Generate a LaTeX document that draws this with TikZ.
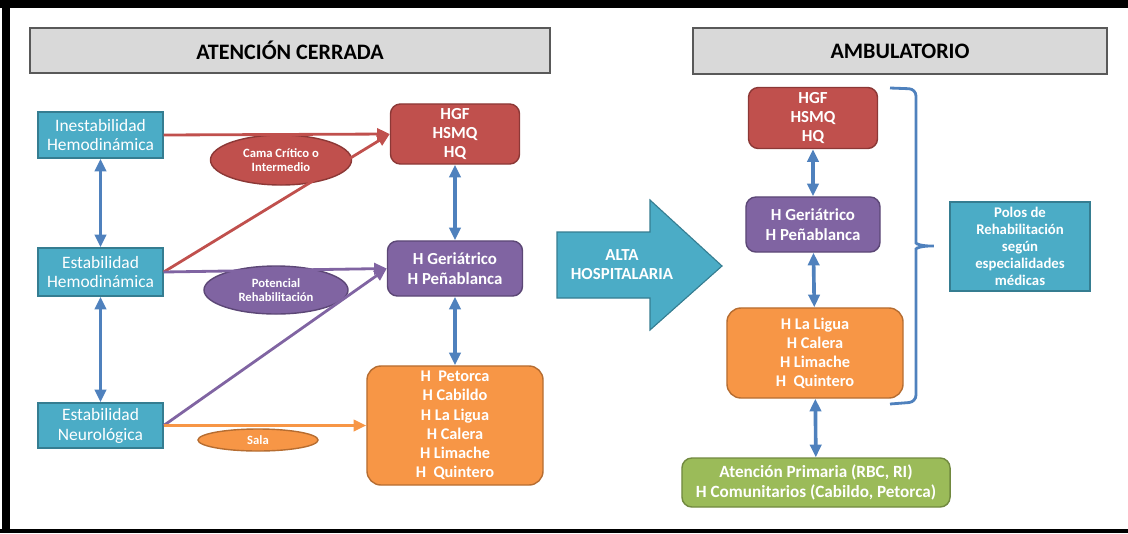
\documentclass[tikz,border=0pt]{standalone}
\usepackage{fontspec}
\setmainfont{Carlito}
\usetikzlibrary{shapes.geometric,arrows.meta}

\definecolor{tealfill}{HTML}{4BACC6}
\definecolor{tealline}{HTML}{357D91}
\definecolor{redfill}{HTML}{C0504D}
\definecolor{redline}{HTML}{8C3836}
\definecolor{purplefill}{HTML}{8064A2}
\definecolor{purpleline}{HTML}{5C4776}
\definecolor{orangefill}{HTML}{F79646}
\definecolor{orangeline}{HTML}{B66D31}
\definecolor{greenfill}{HTML}{9BBB59}
\definecolor{greenline}{HTML}{71893F}
\definecolor{arrowblue}{HTML}{4F81BD}
\definecolor{titlegray}{HTML}{D9D9D9}

\begin{document}
\begin{tikzpicture}[x=0.025cm,y=-0.025cm,>={Triangle[length=9pt,width=8pt]}]
\tikzstyle{every node}=[align=center,inner sep=0pt,text=white]
\tikzstyle{titlebox}=[rectangle,draw=black!65,fill=titlegray,line width=1pt,text=black,font=\fontsize{15.7}{18}\selectfont\bfseries]
\tikzstyle{sourcebox}=[rectangle,draw=tealline,fill=tealfill,line width=1pt,minimum width=3.125cm,font=\fontsize{12.4}{14.2}\selectfont]
\tikzstyle{hospbox}=[rectangle,rounded corners=7pt,line width=1pt,font=\fontsize{12}{13.3}\selectfont\bfseries]
\tikzstyle{tagoval}=[ellipse,line width=1pt,font=\fontsize{9}{10.5}\selectfont\bfseries]
\tikzstyle{link}=[->,line width=2pt]
\tikzstyle{bothway}=[<->,line width=2.6pt,color=arrowblue]
\useasboundingbox (0,0) rectangle (1128,533);
% frame
\fill[black] (0,0) rectangle (1128,8);
\fill[black] (2,0) rectangle (10,533);
\fill[black] (0,529) rectangle (1128,533);
% titles
\node[titlebox,minimum width=13cm,minimum height=1.125cm] (cerrada) at (290,50.5) {ATENCIÓN CERRADA};
\node[titlebox,minimum width=10.35cm,minimum height=1.15cm] (ambulatorio) at (900,51) {AMBULATORIO};
% atencion cerrada
\node[sourcebox,minimum height=1.15cm] (inest) at (100.5,135) {Inestabilidad\\Hemodinámica};
\node[sourcebox,minimum height=1.2cm] (estHemo) at (100.5,272) {Estabilidad\\Hemodinámica};
\node[sourcebox,minimum height=1.125cm] (estNeuro) at (100.5,425.5) {Estabilidad\\Neurológica};
\node[hospbox,fill=redfill,draw=redline,minimum width=3.225cm,minimum height=1.5cm] (hgfL) at (455,134) {HGF\\HSMQ\\HQ};
\node[hospbox,fill=purplefill,draw=purpleline,minimum width=3.375cm,minimum height=1.375cm,font=\fontsize{12}{14}\selectfont\bfseries] (gerL) at (455,268.5) {H Geriátrico\\H Peñablanca};
\node[hospbox,fill=orangefill,draw=orangeline,minimum width=4.4cm,minimum height=2.975cm,rounded corners=10pt,font=\fontsize{11.6}{13.7}\selectfont\bfseries] (oranL) at (455,425.5) {H~ Petorca\\H Cabildo\\H La Ligua\\H Calera\\H Limache\\H~ Quintero};
\node[tagoval,fill=redfill,draw=redline,minimum width=3.525cm,minimum height=1.25cm] (cama) at (281,160) {Cama Crítico o\\Intermedio};
\node[tagoval,fill=purplefill,draw=purpleline,minimum width=3.6cm,minimum height=1.2cm] (potencial) at (276,290) {Potencial\\Rehabilitación};
\node[tagoval,fill=orangefill,draw=orangeline,minimum width=3cm,minimum height=0.55cm] (sala) at (258,440) {Sala};
\path[link,color=redfill] (inest.east) edge (hgfL.west);
\path[link,color=redfill] (estHemo.east) edge (hgfL.west);
\path[link,color=purplefill] (estHemo.east) edge (gerL.west);
\path[link,color=purplefill] (estNeuro.east) edge (gerL.west);
\path[link,color=orangefill] (estNeuro.east) edge (oranL.west);
\path[bothway] (inest) edge (estHemo);
\path[bothway] (estHemo) edge (estNeuro);
\path[bothway] (hgfL) edge (gerL);
\path[bothway] (gerL) edge (oranL);
% alta hospitalaria
\filldraw[fill=tealfill,draw=tealline,line width=0.8pt] (557,232) -- (650,232) -- (650,200) -- (722,266) -- (650,330) -- (650,298) -- (557,298) -- cycle;
\node[font=\fontsize{12}{13.5}\selectfont\bfseries] (alta) at (622,265) {ALTA\\HOSPITALARIA};
% ambulatorio
\node[hospbox,fill=redfill,draw=redline,minimum width=3.225cm,minimum height=1.525cm] (hgfR) at (813,118) {HGF\\HSMQ\\HQ};
\node[hospbox,fill=purplefill,draw=purpleline,minimum width=3.35cm,minimum height=1.375cm,font=\fontsize{12}{14}\selectfont\bfseries] (gerR) at (813,224.5) {H Geriátrico\\H Peñablanca};
\node[hospbox,fill=orangefill,draw=orangeline,minimum width=4.4cm,minimum height=2.25cm,rounded corners=10pt,font=\fontsize{11.6}{13.6}\selectfont\bfseries] (oranR) at (815,353) {H La Ligua\\H Calera\\H Limache\\H~ Quintero};
\node[hospbox,fill=greenfill,draw=greenline,minimum width=6.7cm,minimum height=1.225cm,font=\fontsize{12.2}{13.7}\selectfont\bfseries] (primaria) at (816,482.5) {Atención Primaria (RBC, RI)\\H Comunitarios (Cabildo, Petorca)};
\node[rectangle,draw=tealline,fill=tealfill,line width=1pt,minimum width=3.5cm,minimum height=2.225cm,font=\fontsize{10.5}{12}\selectfont\bfseries] (polos) at (1020,246.5) {Polos de\\Rehabilitación\\según\\especialidades\\médicas};
\path[bothway] (hgfR) edge (gerR);
\path[bothway] (gerR) edge (oranR);
\path[bothway] (oranR) edge (primaria);
% brace
\coordinate (braceTop) at (890,88);
\coordinate (braceBot) at (890,404);
\draw[arrowblue,line width=2pt,rounded corners=5pt] (braceTop) -- (916,89) -- (916,236)
  .. controls (916,244) and (922,246) .. (938,246)
  .. controls (922,246) and (916,248) .. (916,256) -- (916,402) -- (braceBot);
\end{tikzpicture}
\end{document}
